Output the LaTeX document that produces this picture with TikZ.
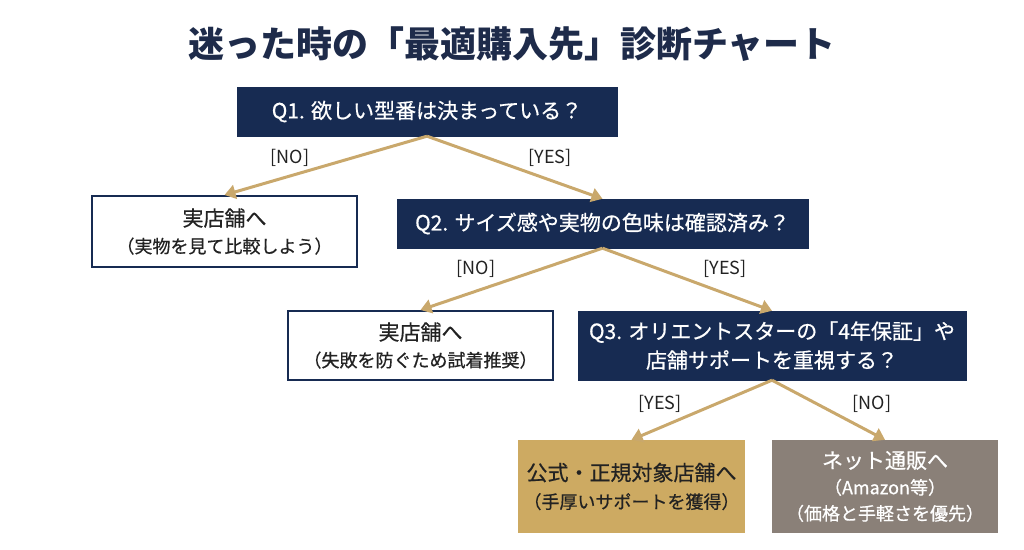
\documentclass[tikz,border=0pt]{standalone}
\usepackage{fontspec}
\setmainfont{Noto Sans CJK JP}
\newfontfamily\medium[FakeBold=0.6]{Noto Sans CJK JP}
\usetikzlibrary{arrows.meta}
\definecolor{navy}{HTML}{172B52}
\definecolor{titlec}{HTML}{1E2B4A}
\definecolor{tan}{HTML}{C9A86C}
\definecolor{goldbox}{HTML}{CDAA62}
\definecolor{graybox}{HTML}{8A8078}
\definecolor{ink}{HTML}{222222}
\tikzset{
  qbox/.style={fill=navy, draw=navy, text=white, align=center, inner sep=0pt,
    font=\medium\fontsize{21}{29}\selectfont},
  wbox/.style={fill=white, draw=navy, line width=2pt, text=ink, align=center, inner sep=0pt,
    font=\medium\fontsize{18}{27}\selectfont},
  gbox/.style={fill=goldbox, draw=none, text=ink, align=center, inner sep=0pt,
    font=\medium\fontsize{18}{28}\selectfont},
  rbox/.style={fill=graybox, draw=none, text=white, align=center, inner sep=0pt,
    font=\medium\fontsize{18}{26}\selectfont},
  conn/.style={draw=tan, line width=3pt, -{Triangle[length=11pt,width=14pt]}},
  lab/.style={text=ink, font=\fontsize{18}{20}\selectfont},
}
\newcommand{\bg}{\fontsize{21}{27}\selectfont}
\begin{document}
\begin{tikzpicture}[x=1pt,y=-1pt]
\useasboundingbox (0,0) rectangle (1024,549);
\node[text=titlec, font=\fontsize{36}{40}\selectfont\bfseries] (title) at (512,44) {迷った時の「最適購入先」診断チャート};
\node[qbox, minimum width=380, minimum height=49] (q1) at (427,111.5) {Q1. 欲しい型番は決まっている？};
\node[wbox, minimum width=265, minimum height=71] (a1) at (224.5,231.5) {{\bg 実店舗へ}\\（実物を見て比較しよう）};
\node[qbox, minimum width=411, minimum height=49] (q2) at (602.5,223.5) {Q2. サイズ感や実物の色味は確認済み？};
\node[wbox, minimum width=265, minimum height=69] (a2) at (420.5,345.5) {{\bg 実店舗へ}\\（失敗を防ぐため試着推奨）};
\node[qbox, minimum width=388, minimum height=69] (q3) at (772,345.5) {Q3. オリエントスターの「4年保証」や\\店舗サポートを重視する？};
\node[gbox, minimum width=227, minimum height=93] (a3) at (631.5,486.5) {{\bg 公式・正規対象店舗へ}\\（手厚いサポートを獲得）};
\node[rbox, minimum width=226, minimum height=93] (a4) at (885,486.5) {{\bg ネット通販へ}\\（Amazon等）\\（価格と手軽さを優先）};
\draw[conn] (q1.south) -- (a1.north);
\draw[conn] (q1.south) -- (q2.north);
\draw[conn] (q2.south) -- (a2.north);
\draw[conn] (q2.south) -- (q3.north);
\draw[conn] (q3.south) -- (a3.north);
\draw[conn] (q3.south) -- (a4.north);
\node[lab] (l1) at (290,158) {[NO]};
\node[lab] (l2) at (550,158) {[YES]};
\node[lab] (l3) at (476,269) {[NO]};
\node[lab] (l4) at (725,269) {[YES]};
\node[lab] (l5) at (660,404) {[YES]};
\node[lab] (l6) at (872,404) {[NO]};
\end{tikzpicture}
\end{document}
